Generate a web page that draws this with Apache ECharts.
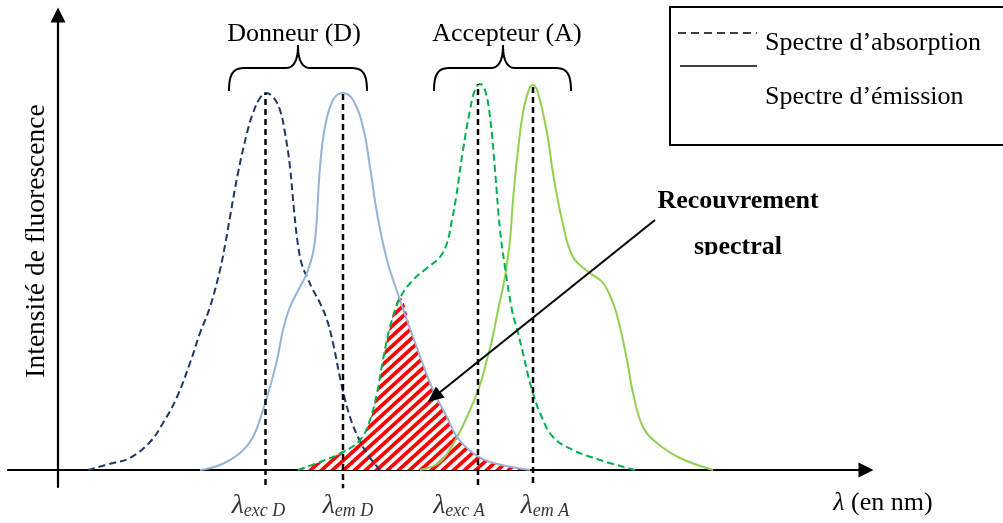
<!DOCTYPE html>
<html><head><meta charset="utf-8">
<script src="https://cdn.jsdelivr.net/npm/echarts@6/dist/echarts.min.js"></script>
<style>html,body{margin:0;padding:0;background:#fff}#c{width:1003px;height:523px}</style>
</head><body><div id="c"></div>
<script>
// ---- data (x: wavelength, arbitrary units; y: intensity, arbitrary units) ----
const donorAbs = [[30,0],[55,7],[72,12],[92,28],[105,47],[119,73],[132,107],[142,137],[152,163],[162,200],[168,230],[172,253],[180,297],[189,337],[195,357],[202,372],[208,377],[215,373],[222,360],[227,337],[232,303],[236,260],[240,225],[244,205],[249,193],[255,180],[262,167],[269,150],[275,127],[284,83],[292,53],[300,33],[310,15],[322,0]];
const donorEm = [[142,0],[162,5],[182,17],[195,33],[205,60],[212,83],[219,110],[225,140],[232,163],[242,183],[249,197],[255,217],[258,240],[262,303],[267,343],[275,370],[285,377],[295,370],[305,343],[312,303],[319,257],[329,210],[342,170],[355,133],[375,80],[389,53],[399,33],[415,17],[432,8],[472,0]];
const acceptorAbs = [[240,0],[262,8],[285,18],[302,30],[312,50],[319,77],[325,110],[332,143],[342,172],[355,190],[369,202],[382,213],[389,227],[394,250],[398,272],[405,320],[412,360],[417,380],[422,386],[427,380],[432,353],[437,300],[442,240],[447,203],[454,160],[460,137],[465,117],[470,95],[475,77],[482,57],[495,33],[515,20],[542,10],[577,0]];
const acceptorEm = [[362,0],[382,8],[399,33],[412,60],[422,85],[427,103],[434,130],[440,160],[447,193],[452,230],[455,270],[460,320],[466,363],[472,383],[475,385],[480,377],[489,337],[495,297],[504,250],[515,213],[532,197],[545,187],[555,167],[562,143],[569,110],[575,77],[585,43],[599,27],[622,12],[655,0]];
const crossX = 342; // where acceptor absorption meets donor emission
const lambdaX = [207.5, 285, 420, 475];
const lambdaTop = [377, 377, 386, 386];
const lambdaBottom = [-15, -20, -15, -13];
const lambdaSub = ['exc D', 'em D', 'exc A', 'em A'];
const arrowFrom = [597, 250];
const arrowTo = [376, 73];
const groupNames = ['Donneur (D)', 'Accepteur (A)'];
const legendNames = ['Spectre d\u2019absorption', 'Spectre d\u2019\u00e9mission'];

// ---- layout / style ----
const FONT = '"Liberation Serif","Times New Roman","DejaVu Serif",serif';
const labelDx = [-7, 5, -19, 12];
const overlap = acceptorAbs.filter(p => p[0] <= crossX).concat(donorEm.filter(p => p[0] > crossX));

function hatch(){
  // seamless diagonal red/white stripes, supersampled
  const w = 11, h = 10, ss = 4;
  const c = document.createElement('canvas'); c.width = w; c.height = h;
  const g = c.getContext('2d');
  const img = g.createImageData(w, h);
  for (let y = 0; y < h; y++) for (let x = 0; x < w; x++){
    let red = 0;
    for (let sy = 0; sy < ss; sy++) for (let sx = 0; sx < ss; sx++){
      const px = x + (sx + 0.5)/ss, py = y + (sy + 0.5)/ss;
      let s = (px / w + py / h) % 1;
      if (s < 0.5) red++;
    }
    const f = red / (ss*ss);
    const i = (y*w + x)*4;
    img.data[i] = 255;
    img.data[i+1] = Math.round(255*(1-f));
    img.data[i+2] = Math.round(255*(1-f));
    img.data[i+3] = 255;
  }
  g.putImageData(img, 0, 0);
  return c;
}
function cubic(p0,p1,p2,p3,out){
  for (let i=1;i<=12;i++){ const t=i/12, u=1-t;
    out.push([u*u*u*p0[0]+3*u*u*t*p1[0]+3*u*t*t*p2[0]+t*t*t*p3[0], u*u*u*p0[1]+3*u*u*t*p1[1]+3*u*t*t*p2[1]+t*t*t*p3[1]]); }
}
function brace(x0, xt, x1, yb, yh, yt){
  const pts=[[x0,yb]];
  cubic([x0,yb],[x0,yh+8],[x0+3,yh],[x0+15,yh],pts);
  pts.push([xt-12,yh]);
  cubic([xt-12,yh],[xt-4,yh],[xt,yh-8],[xt,yt],pts);
  cubic([xt,yt],[xt,yh-8],[xt+4,yh],[xt+12,yh],pts);
  pts.push([x1-15,yh]);
  cubic([x1-15,yh],[x1-3,yh],[x1,yh+8],[x1,yb],pts);
  return pts;
}

const chart = echarts.init(document.getElementById('c'), null, {renderer:'canvas'});
const axisCommon = {
  type:'value', axisTick:{show:false}, axisLabel:{show:false}, splitLine:{show:false},
  axisLine:{onZero:true, symbol:['none','triangle'], symbolSize:[15,15], lineStyle:{color:'#000', width:2.2}}
};
const series = [
  {type:'line', data:donorAbs, smooth:0.4, symbol:'none', lineStyle:{color:'#1f3864', width:2, type:[7,4]}},
  {type:'line', data:acceptorEm, smooth:0.4, symbol:'none', lineStyle:{color:'#92d050', width:2}},
  {type:'line', data:overlap, smooth:0.4, symbol:'none', lineStyle:{width:0, opacity:0}, areaStyle:{color:{image:hatch(), repeat:'repeat'}, opacity:1}},
  {type:'line', data:donorEm, smooth:0.4, symbol:'none', lineStyle:{color:'#95b3d7', width:2}},
  {type:'line', data:acceptorAbs, smooth:0.4, symbol:'none', lineStyle:{color:'#00b050', width:2, type:[7,4]}}
];
lambdaX.forEach((x,i)=>{
  series.push({type:'line', data:[[x, lambdaBottom[i]],[x, lambdaTop[i]]], symbol:'none', lineStyle:{color:'#000', width:2.5, type:[6,4]}});
});
series.push({
  type:'scatter', symbolSize:0,
  data: lambdaX.map((x,i)=>({value:[x,-17], sub:lambdaSub[i], label:{offset:[labelDx[i],18]}})),
  label:{show:true, position:'inside', color:'#000',
    formatter: p => '{l|\u03bb}{s|' + p.data.sub + '}',
    rich:{ l:{fontFamily:FONT, fontSize:28, fontStyle:'italic', color:'#000', verticalAlign:'bottom', lineHeight:30},
           s:{fontFamily:FONT, fontSize:18, fontStyle:'italic', color:'#000', verticalAlign:'bottom', lineHeight:30} }},
  markLine:{silent:true, animation:false, symbol:['none','triangle'], symbolSize:[14,16],
    lineStyle:{color:'#000', width:2, type:'solid'}, label:{show:false},
    data:[[{coord:arrowFrom},{coord:arrowTo}]]}
});

const txt = (x,y,text,extra) => ({type:'text', x, y, z:100,
  style:Object.assign({text, fontFamily:FONT, fontSize:26, fill:'#000', align:'center', verticalAlign:'middle', textAlign:'center', textVerticalAlign:'middle'}, extra||{})});

const ytitle = txt(37,241,'Intensit\u00e9 de fluorescence',{fontSize:27.5});
ytitle.rotation = Math.PI/2;

chart.setOption({
  animation:false, backgroundColor:'#fff',
  grid:{left:8, right:137, top:15, bottom:36},
  xAxis:Object.assign({min:-50, max:808}, axisCommon),
  yAxis:Object.assign({min:-17, max:455}, axisCommon),
  series,
  graphic:[
    txt(294,34,groupNames[0]),
    txt(507,34,groupNames[1]),
    {type:'polyline', z:100, shape:{points:brace(229,298,367,91,68,45)}, style:{stroke:'#000', lineWidth:2, fill:null}},
    {type:'polyline', z:100, shape:{points:brace(434,503,571,91,68,45)}, style:{stroke:'#000', lineWidth:2, fill:null}},
    {type:'rect', z:100, shape:{x:670, y:7, width:360, height:138}, style:{stroke:'#000', lineWidth:2, fill:'#fff'}},
    {type:'line', z:101, shape:{x1:678, y1:33, x2:757, y2:33}, style:{stroke:'#000', lineWidth:1.5, lineDash:[8,5]}},
    {type:'line', z:101, shape:{x1:680, y1:66, x2:757, y2:66}, style:{stroke:'#000', lineWidth:1.7}},
    txt(765,43,legendNames[0],{align:'left', textAlign:'left'}),
    txt(765,97,legendNames[1],{align:'left', textAlign:'left'}),
    txt(738,201,'Recouvrement',{fontWeight:'bold'}),
    txt(738,247,'spectral',{fontWeight:'bold'}),
    {type:'rect', z:102, shape:{x:680, y:255, width:120, height:12}, style:{fill:'#fff'}},
    txt(883,503,'{i|\u03bb} (en nm)',{rich:{i:{fontFamily:FONT, fontSize:26, fontStyle:'italic'}}}),
    ytitle
  ]
});
</script></body></html>
